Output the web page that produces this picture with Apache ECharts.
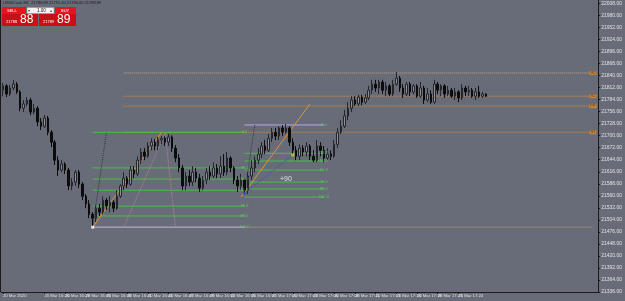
<!DOCTYPE html>
<html>
<head>
<meta charset="utf-8">
<script src="https://cdn.jsdelivr.net/npm/echarts@6/dist/echarts.min.js"></script>
<style>
html, body { margin: 0; padding: 0; background: #686c79; }
#chart { width: 625px; height: 301px; }
</style>
</head>
<body>
<div id="chart"></div>
<script>
// bougies (open / close / low / high)
var opens = [21806,21816,21797,21811,21820,21802,21764,21774,21783,21755,
  21764,21732,21722,21741,21708,21685,21643,21620,21634,21620,
  21583,21592,21615,21587,21559,21541,21517,21508,21531,21522,
  21550,21536,21545,21531,21559,21583,21601,21587,21620,21611,
  21643,21662,21652,21676,21685,21676,21690,21694,21685,21697,
  21671,21648,21625,21583,21606,21592,21615,21601,21578,21597,
  21615,21606,21625,21611,21629,21615,21648,21625,21597,21583,
  21597,21573,21606,21625,21643,21657,21676,21666,21694,21708,
  21699,21718,21708,21718,21685,21666,21652,21671,21662,21676,
  21652,21643,21676,21666,21648,21657,21652,21680,21708,21722,
  21746,21764,21783,21774,21790,21778,21788,21806,21820,21811,
  21825,21806,21816,21797,21820,21834,21811,21797,21820,21802,
  21816,21792,21811,21783,21797,21778,21820,21806,21816,21797,
  21806,21792,21802,21788,21811,21802,21806,21792,21802,21792,
  21797];
var closes = [21816,21797,21811,21820,21802,21764,21774,21783,21755,21764,
  21732,21722,21741,21708,21685,21643,21620,21634,21620,21583,
  21592,21615,21587,21559,21541,21517,21508,21531,21522,21550,
  21536,21545,21531,21559,21583,21601,21587,21620,21611,21643,
  21662,21652,21676,21685,21676,21690,21694,21685,21697,21671,
  21648,21625,21583,21606,21592,21615,21601,21578,21597,21615,
  21606,21625,21611,21629,21615,21648,21625,21597,21583,21597,
  21573,21606,21625,21643,21657,21676,21666,21694,21708,21699,
  21718,21708,21718,21685,21666,21652,21671,21662,21676,21652,
  21643,21676,21666,21648,21657,21652,21680,21708,21722,21746,
  21764,21783,21774,21790,21778,21788,21806,21820,21811,21825,
  21806,21816,21797,21820,21834,21811,21797,21820,21802,21816,
  21792,21811,21783,21797,21778,21820,21806,21816,21797,21806,
  21792,21802,21788,21811,21802,21806,21792,21802,21792,21797,
  21792];
var lows = [21792,21790,21792,21806,21797,21757,21755,21769,21748,21750,
  21722,21713,21718,21701,21673,21632,21606,21615,21611,21573,
  21573,21583,21578,21550,21531,21508,21487,21499,21513,21517,
  21527,21522,21522,21527,21555,21573,21578,21583,21601,21606,
  21634,21643,21648,21666,21666,21666,21680,21676,21676,21662,
  21638,21615,21573,21573,21583,21583,21592,21569,21573,21587,
  21597,21601,21601,21601,21606,21608,21615,21587,21569,21573,
  21566,21564,21597,21615,21634,21648,21657,21662,21685,21690,
  21690,21699,21704,21676,21652,21643,21643,21652,21652,21643,
  21638,21638,21652,21638,21643,21643,21648,21671,21704,21718,
  21736,21755,21769,21769,21771,21774,21783,21797,21802,21797,
  21797,21792,21792,21792,21816,21802,21788,21792,21792,21797,
  21788,21788,21774,21778,21774,21774,21797,21792,21788,21792,
  21788,21783,21778,21783,21792,21792,21788,21783,21788,21788,
  21790];
var highs = [21823,21820,21818,21830,21825,21806,21783,21790,21788,21774,
  21769,21741,21748,21746,21713,21690,21652,21643,21638,21625,
  21601,21620,21620,21592,21564,21550,21522,21538,21541,21559,
  21555,21559,21550,21573,21587,21615,21606,21629,21629,21652,
  21671,21671,21685,21694,21692,21697,21699,21699,21704,21701,
  21678,21657,21632,21615,21620,21629,21625,21611,21606,21625,
  21629,21638,21634,21652,21657,21662,21652,21629,21606,21611,
  21601,21615,21643,21652,21671,21685,21690,21704,21718,21718,
  21722,21725,21727,21722,21694,21676,21680,21678,21685,21680,
  21666,21690,21685,21676,21671,21666,21690,21718,21736,21760,
  21778,21792,21792,21795,21795,21797,21816,21830,21830,21830,
  21830,21825,21820,21830,21848,21839,21820,21825,21825,21820,
  21820,21825,21816,21811,21806,21830,21825,21820,21820,21816,
  21811,21811,21806,21820,21816,21816,21811,21811,21816,21802,
  21799];

var timeLabels = ['20 Mar 2020','20 Mar 16:20','20 Mar 16:26','20 Mar 16:29','20 Mar 16:35',
  '20 Mar 16:38','20 Mar 16:41','20 Mar 16:44','20 Mar 16:47','20 Mar 16:49','20 Mar 16:52',
  '20 Mar 16:55','20 Mar 16:57','20 Mar 17:00','20 Mar 17:03','20 Mar 17:06','20 Mar 17:08',
  '20 Mar 17:11','20 Mar 17:13','20 Mar 17:16','20 Mar 17:18','20 Mar 17:21','20 Mar 17:24',
  '20 Mar 17:27'];
var labelStep = 6;
var slotCount = 173;

var bid = 21788.89;
var ask = 21789.89;

// niveaux orange (pointillés)
var pivotLevels = [21846, 21792, 21769, 21708];
var pivotNames = ['R2', 'R1', 'PP', 'S1'];
var pivotFrom = 35, pivotTo = 171;
var bottomLevel = 21487, bottomFrom = 26;

// fibo 1 et fibo 2
var fibRatios = ['0.0', '38.2', '50.0', '61.8', '78.6', '88.6', '100.0'];
var fib1Levels = [21708, 21625, 21599, 21573, 21536, 21513, 21487];
var fib1From = 26, fib1To = 70;
var fib2Levels = [21725, 21659, 21641, 21620, 21592, 21576, 21557];
var fib2From = 70, fib2To = 93;

// lignes de tendance
var trendGrayA = [[26, 21487], [30.4, 21708]];
var trendOrangeA = [[26, 21487], [46, 21708]];
var trendPink = [[35, 21487], [47.2, 21706], [50.4, 21487]];
var trendGrayB = [[70.4, 21566], [73.2, 21725]];
var trendOrangeB = [[69, 21557], [88.6, 21774]];
var trendBlue = [[70.4, 21566], [84.4, 21655]];
var dots = [[26, 21487], [70.4, 21566], [84.4, 21655]];
var dotColors = ['#ffffff', '#3b46d6', '#f0d040'];
var profitText = '+90', profitPos = [81.8, 21599];

var cats = [];
for (var i = 0; i < slotCount; i++) cats.push(String(i));

var candles = opens.map(function(o, i){
    return [o, closes[i], lows[i], highs[i]];
});

var chart = echarts.init(document.getElementById('chart'));
var series = [];

function seg(points, color, type, z){
    series.push({
        type: 'line', data: points, symbol: 'none', silent: true,
        animation: false, z: z || 2,
        lineStyle: {color: color, type: type, width: 1}
    });
}

//niveaux orange
pivotLevels.forEach(function(lv, k){
    seg([[pivotFrom, lv], [pivotTo, lv]], k === 0 ? '#caa07a' : '#e08a2c', 'dotted');
});
seg([[bottomFrom, bottomLevel], [pivotTo, bottomLevel]], '#c9a05a', 'dotted');

//fibo
fib1Levels.forEach(function(lv, k){
    seg([[fib1From, lv], [fib1To, lv]], k === fib1Levels.length - 1 ? '#b6a8e6' : '#44c044', 'solid', 3);
});
fib2Levels.forEach(function(lv, k){
    seg([[fib2From, lv], [fib2To, lv]], k === 0 ? '#b6a8e6' : '#44c044', 'solid', 3);
});

//tendances
seg(trendGrayA, '#34363d', 'dotted', 4);
seg(trendOrangeA, '#e3932f', 'solid', 4);
seg(trendPink, '#b88494', 'dotted', 4);
seg(trendGrayB, '#34363d', 'dotted', 4);
seg(trendOrangeB, '#e3932f', 'solid', 4);
seg(trendBlue, '#3b46d6', 'dotted', 4);

function labelSet(levels, xPos, texts, bg, fg){
    series.push({
        type: 'scatter', symbolSize: 0, silent: true, animation: false, z: 6,
        data: levels.map(function(lv){ return [xPos, lv]; }),
        label: {
            show: true, position: 'inside', fontSize: 4, fontFamily: 'Liberation Sans',
            color: fg, backgroundColor: bg, padding: [0, 1],
            formatter: function(p){ return texts[p.dataIndex]; }
        }
    });
}
labelSet(pivotLevels, pivotTo, pivotNames, '#d8892e', '#4a2800');
labelSet(fib1Levels, fib1To - 0.5, fibRatios, 'transparent', '#66d466');
labelSet(fib2Levels, fib2To - 0.5, fibRatios, 'transparent', '#66d466');

series.push({
    type: 'scatter', symbol: 'rect', symbolSize: 3, silent: true, animation: false, z: 7,
    data: dots.map(function(d, k){ return {value: d, itemStyle: {color: dotColors[k]}}; })
});
series.push({
    type: 'scatter', symbolSize: 0, silent: true, animation: false, z: 7,
    data: [profitPos],
    label: {show: true, position: 'inside', formatter: profitText, fontSize: 7,
        fontFamily: 'Liberation Sans', color: '#ffffff'}
});

//bougies
series.push({
    type: 'candlestick', data: candles, barWidth: 2, z: 5, animation: false,
    itemStyle: {
        color: '#8d909b', borderColor: '#25262b',
        color0: '#0c0c0c', borderColor0: '#0c0c0c', borderWidth: 1
    },
    markLine: {
        silent: true, symbol: 'none', animation: false,
        lineStyle: {opacity: 0},
        data: [{yAxis: bid}],
        label: {
            position: 'end', distance: 1, fontSize: 5, fontFamily: 'Liberation Sans',
            color: '#ffffff', backgroundColor: '#000000', padding: [1, 1],
            formatter: bid.toFixed(2)
        }
    }
});

var showTick = function(idx){
    return idx % labelStep === 0 && idx / labelStep < timeLabels.length;
};

var option = {
    backgroundColor: '#686c79',
    animation: false,
    grid: {left: 0, right: 20, top: 0, bottom: 9},
    xAxis: {
        type: 'category', data: cats, boundaryGap: true,
        axisLine: {lineStyle: {color: '#1a1a1a'}},
        axisTick: {show: true, length: 2, alignWithLabel: true, interval: showTick,
            lineStyle: {color: '#1a1a1a'}},
        axisLabel: {
            interval: showTick, fontSize: 4.2, margin: 2, align: 'left',
            showMinLabel: true, hideOverlap: false,
            fontFamily: 'Liberation Sans', color: '#e2e2e2',
            formatter: function(v, idx){ return timeLabels[idx / labelStep] || ''; }
        },
        splitLine: {show: false}
    },
    yAxis: {
        type: 'value', position: 'right', scale: true,
        min: 21336, max: 22016, interval: 28,
        axisLine: {show: true, lineStyle: {color: '#1a1a1a'}},
        axisTick: {show: true, length: 2, lineStyle: {color: '#1a1a1a'}},
        axisLabel: {
            fontSize: 5, margin: 3, color: '#e2e2e2', fontFamily: 'Liberation Sans',
            showMaxLabel: false,
            formatter: function(v){ return v.toFixed(2); }
        },
        splitLine: {show: false}
    },
    graphic: [
        {type: 'line', shape: {x1: 0.5, y1: 0, x2: 0.5, y2: 292}, style: {stroke: '#1a1a1a', lineWidth: 1}},
        {type: 'text', x: 3, y: 1, style: {text: 'US30Cash,M1  21788.89 21792.40 21786.60 21788.89',
            fontSize: 4, fill: '#1c1c1c', fontFamily: 'Liberation Sans'}},
        {type: 'rect', shape: {x: 2, y: 7, width: 24, height: 8}, style: {fill: '#e3161d'}},
        {type: 'text', x: 7, y: 9, style: {text: 'SELL', fontSize: 4, fill: '#ffffff', fontFamily: 'Liberation Sans'}},
        {type: 'rect', shape: {x: 27, y: 7.5, width: 27, height: 6}, style: {fill: '#f2f2f2', stroke: '#8a8a8a', lineWidth: 0.5}},
        {type: 'text', x: 28, y: 8.5, style: {text: '▾', fontSize: 4, fill: '#444'}},
        {type: 'text', x: 50, y: 8.5, style: {text: '▴', fontSize: 4, fill: '#444'}},
        {type: 'text', x: 37, y: 8.5, style: {text: '1.00', fontSize: 4.5, fill: '#222', fontFamily: 'Liberation Sans'}},
        {type: 'rect', shape: {x: 55, y: 7, width: 21, height: 8}, style: {fill: '#e3161d'}},
        {type: 'text', x: 61, y: 9, style: {text: 'BUY', fontSize: 4, fill: '#ffffff', fontFamily: 'Liberation Sans'}},
        {type: 'rect', shape: {x: 2, y: 14, width: 36, height: 12}, style: {fill: '#c81016'}},
        {type: 'text', x: 6, y: 20, style: {text: '21788', fontSize: 4, fill: '#ffffff', fontFamily: 'Liberation Sans'}},
        {type: 'text', x: 20, y: 14, style: {text: '88', fontSize: 12, fill: '#ffffff', fontFamily: 'Liberation Sans'}},
        {type: 'rect', shape: {x: 39, y: 14, width: 37, height: 12}, style: {fill: '#c81016'}},
        {type: 'text', x: 43, y: 20, style: {text: '21789', fontSize: 4, fill: '#ffffff', fontFamily: 'Liberation Sans'}},
        {type: 'text', x: 57, y: 14, style: {text: '89', fontSize: 12, fill: '#ffffff', fontFamily: 'Liberation Sans'}}
    ],
    series: series
};

chart.setOption(option);
</script>
</body>
</html>
